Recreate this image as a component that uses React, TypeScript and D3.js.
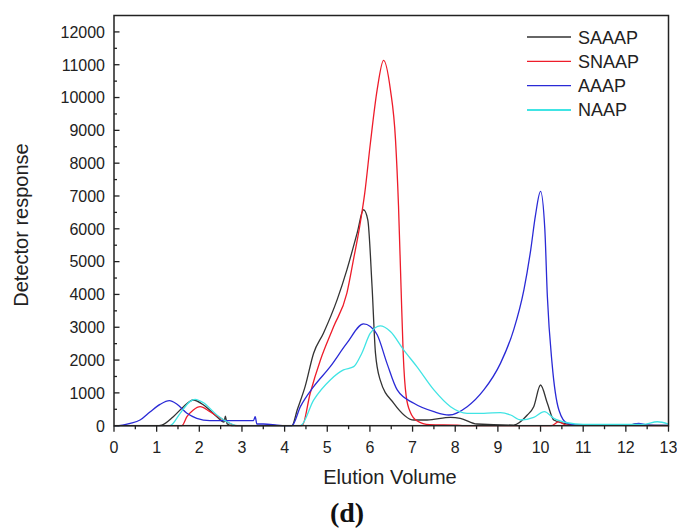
import React, { useRef, useEffect } from "react";
import * as d3 from "d3";

type Pt = [number, number];

const saaap: Pt[] = [
  [0, 0], [1.0, 0], [1.12, 20], [1.39, 275], [1.63, 580], [1.86, 783], [2.1, 631],
  [2.41, 275], [2.58, 110], [2.61, 290], [2.65, 60], [2.75, 0], [4.17, 0], [4.3, 500],
  [4.48, 1190], [4.68, 2210], [4.91, 2820], [5.23, 3835], [5.46, 4750], [5.7, 5870],
  [5.85, 6580], [5.95, 6275], [6.05, 4240], [6.13, 2210], [6.24, 1395], [6.56, 683],
  [7.03, 174], [7.34, 174], [7.89, 256], [8.12, 225], [8.51, 52], [9.37, 20],
  [9.69, 326], [9.84, 580], [10.0, 1240], [10.16, 683], [10.31, 174], [10.55, 73],
  [10.8, 20], [12.1, 20], [12.25, 60], [12.4, 20], [13, 10],
];

const snaap: Pt[] = [
  [0, 0], [1.59, 0], [1.71, 275], [1.86, 480], [2.02, 580], [2.25, 427], [2.57, 174],
  [2.8, 20], [2.9, 0], [4.41, 0], [4.6, 990], [4.84, 2000], [5.15, 3020], [5.46, 4040],
  [5.62, 5100], [5.75, 6000], [5.88, 7100], [6.01, 8600], [6.17, 10240], [6.32, 11135],
  [6.48, 10240], [6.6, 8710], [6.67, 6700], [6.73, 4200], [6.78, 2200], [6.85, 900],
  [6.95, 400], [7.1, 150], [7.4, 30], [8.04, 15], [8.2, 0], [10.25, 0], [10.43, 122],
  [10.6, 20], [13, 0],
];

const aaap: Pt[] = [
  [0, 0], [0.2, 20], [0.38, 73], [0.61, 174], [0.85, 427], [1.08, 650], [1.3, 763],
  [1.47, 662], [1.71, 378], [1.94, 225], [2.25, 152], [2.57, 152], [3.27, 152],
  [3.31, 275], [3.35, 52], [3.5, 52], [3.82, 20], [4.0, 0], [4.17, 0], [4.37, 580],
  [4.68, 1190], [5.07, 1800], [5.46, 2515], [5.85, 3100], [6.01, 3020], [6.17, 2770],
  [6.4, 1900], [6.64, 1090], [7.03, 683], [7.5, 427], [7.85, 326], [8.28, 580],
  [8.67, 1090], [9.06, 1900], [9.37, 2920], [9.61, 4140], [9.77, 5360], [9.88, 6400],
  [10.0, 7140], [10.1, 6000], [10.16, 3935], [10.27, 1900], [10.43, 480], [10.63, 73],
  [10.9, 20], [12.1, 20], [12.3, 70], [12.5, 20], [13, 10],
];

const naap: Pt[] = [
  [0, 0], [1.31, 0], [1.55, 378], [1.78, 733], [1.9, 805], [2.1, 700], [2.41, 326],
  [2.72, 73], [2.9, 0], [4.37, 0], [4.68, 780], [5.07, 1395], [5.38, 1700], [5.62, 1800],
  [5.81, 2210], [6.01, 2820], [6.24, 3040], [6.48, 2870], [6.79, 2310], [7.1, 1800],
  [7.5, 1090], [7.89, 580], [8.28, 378], [8.67, 378], [9.06, 400], [9.3, 326],
  [9.53, 174], [9.84, 256], [10.09, 427], [10.31, 225], [10.63, 90], [11.0, 40],
  [12.4, 40], [12.74, 120], [13, 50],
];

const seriesNames = ["SAAAP", "SNAAP", "AAAP", "NAAP"];
const seriesData = [saaap, snaap, aaap, naap];
const seriesColors = ["#333333", "#ee1c2a", "#2a2ad6", "#40e4e4"];

const xTicks = d3.range(0, 14, 1);
const yTicks = d3.range(0, 12001, 1000);

const W = 677;
const H = 530;

const App = () => {
  const svgRef = useRef<SVGSVGElement>(null);

  useEffect(() => {
    const svg = d3.select(svgRef.current);
    svg.selectAll("*").remove();

    const left = 114, right = 668.5, top = 15.5, bottom = 425.7;
    const x = d3.scaleLinear().domain([0, 13]).range([left, right]);
    const y = d3.scaleLinear().domain([0, 12500]).range([bottom, top]);
    const font = "Arial, 'Liberation Sans', sans-serif";

    // curves
    const line = d3
      .line<Pt>()
      .x((d) => x(d[0]))
      .y((d) => y(d[1]))
      .curve(d3.curveMonotoneX);

    seriesData.forEach((s, i) => {
      svg
        .append("path")
        .attr("d", line(s))
        .attr("fill", "none")
        .attr("stroke", seriesColors[i])
        .attr("stroke-width", 1.3);
    });

    // frame
    svg
      .append("rect")
      .attr("x", left)
      .attr("y", top)
      .attr("width", right - left)
      .attr("height", bottom - top)
      .attr("fill", "none")
      .attr("stroke", "#222")
      .attr("stroke-width", 1.5);

    // x ticks (outward)
    const g = svg.append("g").attr("stroke", "#222").attr("stroke-width", 1.3);
    d3.range(0, 13.01, 0.5).forEach((v) => {
      const major = Math.abs(v - Math.round(v)) < 1e-6;
      g.append("line")
        .attr("x1", x(v))
        .attr("x2", x(v))
        .attr("y1", bottom)
        .attr("y2", bottom + (major ? 6 : 3.5));
    });
    // y ticks (inward)
    d3.range(0, 12001, 500).forEach((v) => {
      const major = v % 1000 === 0;
      g.append("line")
        .attr("x1", left)
        .attr("x2", left + (major ? 5.5 : 3))
        .attr("y1", y(v))
        .attr("y2", y(v));
    });

    svg
      .selectAll("text.xt")
      .data(xTicks)
      .enter()
      .append("text")
      .attr("x", (d) => x(d))
      .attr("y", 453)
      .attr("text-anchor", "middle")
      .attr("font-family", font)
      .attr("font-size", 16)
      .attr("fill", "#222")
      .text((d) => d);

    svg
      .selectAll("text.yt")
      .data(yTicks)
      .enter()
      .append("text")
      .attr("x", 105)
      .attr("y", (d) => y(d) + 5.8)
      .attr("text-anchor", "end")
      .attr("font-family", font)
      .attr("font-size", 16)
      .attr("fill", "#222")
      .text((d) => d);

    // axis titles
    svg
      .append("text")
      .attr("x", 390)
      .attr("y", 484)
      .attr("text-anchor", "middle")
      .attr("font-family", font)
      .attr("font-size", 20)
      .attr("fill", "#222")
      .text("Elution Volume");

    svg
      .append("text")
      .attr("transform", "translate(28,225) rotate(-90)")
      .attr("text-anchor", "middle")
      .attr("font-family", font)
      .attr("font-size", 20)
      .attr("fill", "#222")
      .text("Detector response");

    svg
      .append("text")
      .attr("x", 347)
      .attr("y", 522)
      .attr("text-anchor", "middle")
      .attr("font-family", "'Liberation Serif', 'Times New Roman', serif")
      .attr("font-weight", "bold")
      .attr("font-size", 28)
      .attr("fill", "#111")
      .text("(d)");

    // legend
    seriesNames.forEach((name, i) => {
      const ly = 37 + i * 24.3;
      svg
        .append("line")
        .attr("x1", 527)
        .attr("x2", 571)
        .attr("y1", ly)
        .attr("y2", ly)
        .attr("stroke", seriesColors[i])
        .attr("stroke-width", i === 3 ? 2 : 1.3);
      svg
        .append("text")
        .attr("x", 578)
        .attr("y", ly + 6.5)
        .attr("font-family", font)
        .attr("font-size", 18)
        .attr("fill", "#222")
        .text(name);
    });
  }, []);

  return (
    <svg
      ref={svgRef}
      width={W}
      height={H}
      style={{ position: "absolute", left: 0, top: 0, background: "#fff" }}
    ></svg>
  );
};

export default App;
